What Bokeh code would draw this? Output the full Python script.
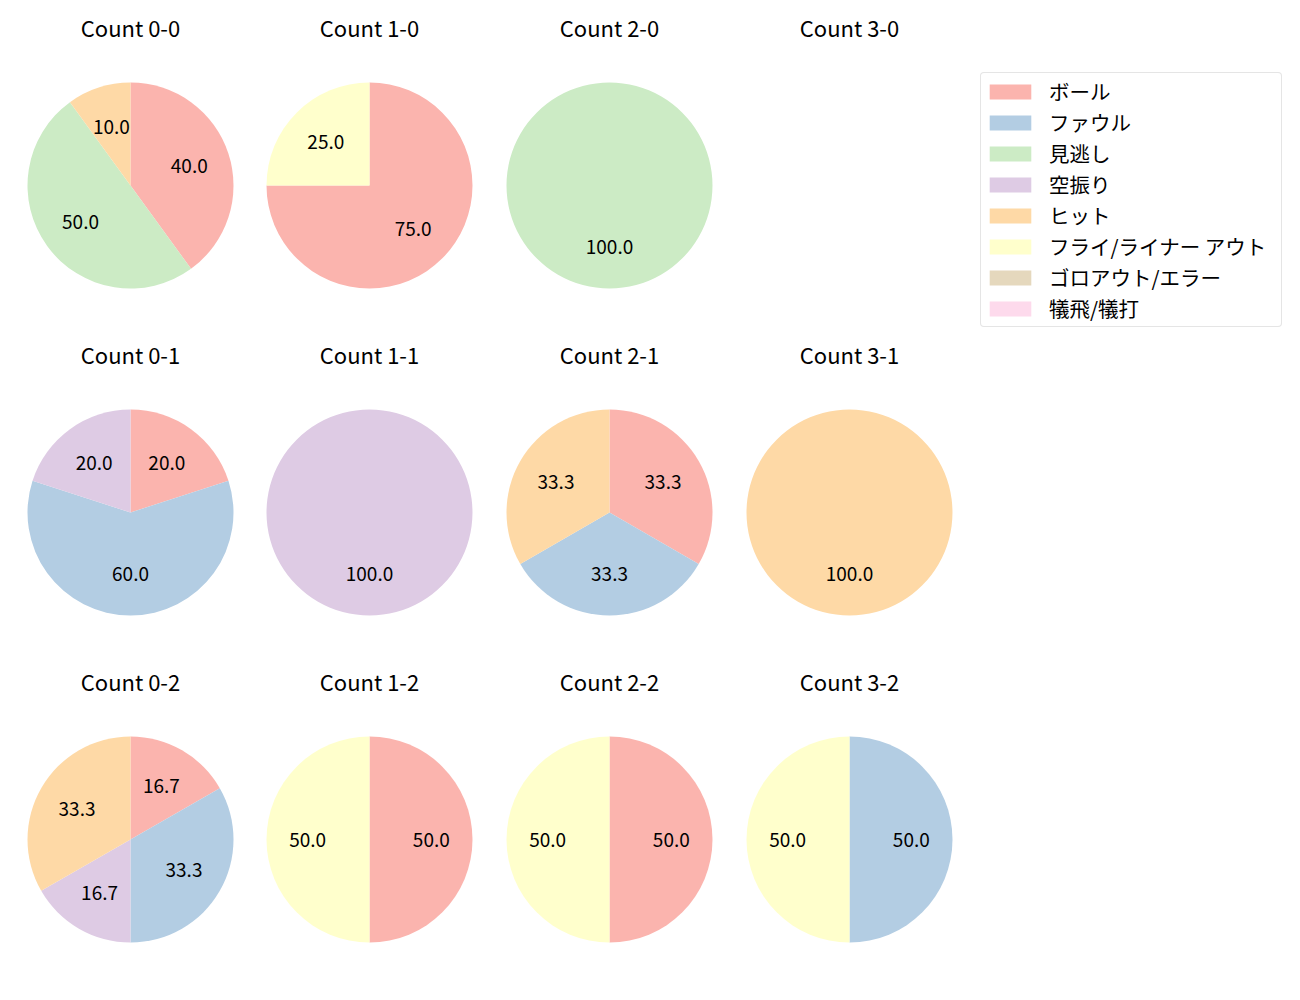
import math
from bokeh.plotting import figure
from bokeh.models import ColumnDataSource, Legend, LegendItem
from bokeh.core.properties import value
from bokeh.embed import file_html
from bokeh.resources import INLINE

# ---------------- data ----------------
categories = ["ボール", "ファウル", "見逃し", "空振り", "ヒット",
              "フライ/ライナー アウト", "ゴロアウト/エラー", "犠飛/犠打"]
colors = ["#fbb4ae", "#b3cde3", "#ccebc5", "#decbe4", "#fed9a6",
          "#ffffcc", "#e5d8bd", "#fddaec"]

# percentages per category (same order as categories), keyed by count "balls-strikes"
count_0_0 = [40.0, 0, 50.0, 0, 10.0, 0, 0, 0]
count_1_0 = [75.0, 0, 0, 0, 0, 25.0, 0, 0]
count_2_0 = [0, 0, 100.0, 0, 0, 0, 0, 0]
count_3_0 = [0, 0, 0, 0, 0, 0, 0, 0]
count_0_1 = [20.0, 60.0, 0, 20.0, 0, 0, 0, 0]
count_1_1 = [0, 0, 0, 100.0, 0, 0, 0, 0]
count_2_1 = [33.3, 33.3, 0, 0, 33.3, 0, 0, 0]
count_3_1 = [0, 0, 0, 0, 100.0, 0, 0, 0]
count_0_2 = [16.7, 33.3, 0, 16.7, 33.3, 0, 0, 0]
count_1_2 = [50.0, 0, 0, 0, 0, 50.0, 0, 0]
count_2_2 = [50.0, 0, 0, 0, 0, 50.0, 0, 0]
count_3_2 = [0, 50.0, 0, 0, 0, 50.0, 0, 0]

pies = [
    ("Count 0-0", 0, 0, count_0_0), ("Count 1-0", 1, 0, count_1_0),
    ("Count 2-0", 2, 0, count_2_0), ("Count 3-0", 3, 0, count_3_0),
    ("Count 0-1", 0, 1, count_0_1), ("Count 1-1", 1, 1, count_1_1),
    ("Count 2-1", 2, 1, count_2_1), ("Count 3-1", 3, 1, count_3_1),
    ("Count 0-2", 0, 2, count_0_2), ("Count 1-2", 1, 2, count_1_2),
    ("Count 2-2", 2, 2, count_2_2), ("Count 3-2", 3, 2, count_3_2),
]

# ---------------- layout ----------------
W, H = 1300, 1000
col_x = [130, 369, 609, 849]
row_y = [185, 512, 839]
R = 103
TITLE_DY = 159
FONT = "Noto Sans CJK JP"

p = figure(width=W, height=H, x_range=(0, W), y_range=(0, H),
           output_backend="svg", toolbar_location=None, min_border=0,
           x_axis_location=None, y_axis_location=None)
p.grid.visible = False
p.outline_line_color = None
p.background_fill_color = "white"
p.border_fill_color = "white"

wedge_data = {c: dict(x=[], y=[], s=[], e=[]) for c in categories}
lab = dict(x=[], y=[], t=[])
tit = dict(x=[], y=[], t=[])

for title, col, row, vals in pies:
    cx = col_x[col]
    cy = H - row_y[row]
    tit["x"].append(cx)
    tit["y"].append(H - (row_y[row] - TITLE_DY))
    tit["t"].append(title)
    total = sum(vals)
    if total <= 0:
        continue
    cum = 0.0
    for cat, v in zip(categories, vals):
        if v <= 0:
            continue
        f = v / total
        a0 = 90 - cum * 360
        a1 = 90 - (cum + f) * 360
        if f >= 0.9999:
            a1 = a0 - 359.99
        d = wedge_data[cat]
        d["x"].append(cx); d["y"].append(cy)
        d["s"].append(math.radians(a0)); d["e"].append(math.radians(a1))
        mid = math.radians((a0 + a1) / 2)
        lab["x"].append(cx + 0.6 * R * math.cos(mid))
        lab["y"].append(cy + 0.6 * R * math.sin(mid))
        lab["t"].append(f"{v:.1f}")
        cum += f

# categories without any slice still need a legend swatch: give them one
# invisible off-canvas entry so the legend draws their colour
for cat in categories:
    d = wedge_data[cat]
    if not d["x"]:
        d["x"].append(-5000); d["y"].append(-5000)
        d["s"].append(0.0); d["e"].append(0.1)

items = []
for cat, colr in zip(categories, colors):
    src = ColumnDataSource(wedge_data[cat])
    r = p.wedge(x="x", y="y", radius=R, start_angle="s", end_angle="e",
                direction="clock", source=src, fill_color=colr, line_color=None)
    items.append(LegendItem(label=cat, renderers=[r]))

p.text(x="x", y="y", text="t", source=ColumnDataSource(lab),
       text_font=value(FONT), text_font_size="19px", text_color="black",
       text_align="center", text_baseline="middle")
p.text(x="x", y="y", text="t", source=ColumnDataSource(tit),
       text_font=value(FONT), text_font_size="22px", text_color="black",
       text_align="center", text_baseline="middle")

legend = Legend(items=items, location=(980, H - 327), orientation="vertical")
legend.margin = 0
legend.padding = 3
legend.spacing = 1
legend.glyph_width = 52
legend.glyph_height = 19
legend.label_standoff = 13
legend.label_height = 20
legend.label_width = 229
legend.label_text_font = FONT
legend.label_text_font_size = "20.5px"
legend.label_text_color = "black"
legend.border_line_color = "#cccccc"
legend.border_line_width = 1
legend.background_fill_color = "white"
legend.background_fill_alpha = 1.0
if "border_radius" in legend.properties():
    legend.border_radius = 4
p.add_layout(legend)

open("out.html", "w").write(file_html(p, INLINE))
